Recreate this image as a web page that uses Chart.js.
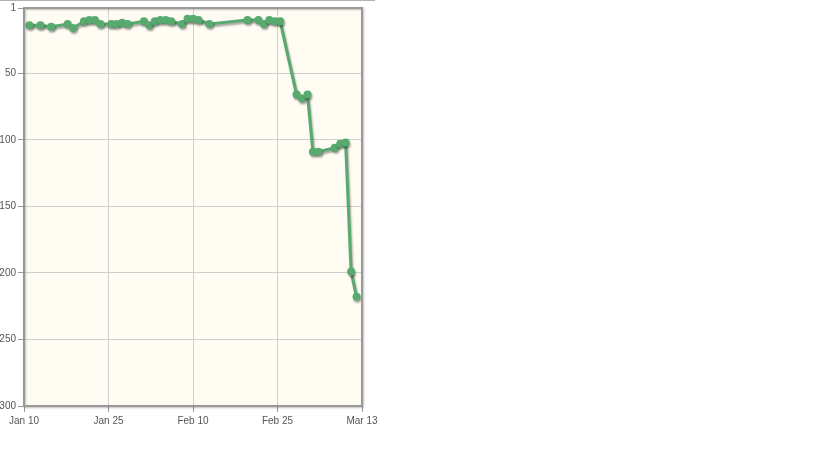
<!DOCTYPE html>
<html>
<head>
<meta charset="utf-8">
<script src="https://cdn.jsdelivr.net/npm/chart.js@4/dist/chart.umd.min.js"></script>
<style>
  body { margin: 0; background: #fff; }
  #wrap { position: relative; width: 819px; height: 460px; }
  #topline { position: absolute; left: 0; top: 0; width: 375px; height: 1px; background: #a9b4bd; }
</style>
</head>
<body>
<div id="wrap">
  <div id="topline"></div>
  <canvas id="rankChart"></canvas>
</div>
<script>
// dates (2023) and rank on each date
const dates = [
  '01-11', '01-13', '01-15', '01-18', '01-19', '01-21', '01-22', '01-23', '01-24', '01-26',
  '01-27', '01-28', '01-29', '02-01', '02-02', '02-03', '02-04', '02-05', '02-06', '02-08',
  '02-09', '02-10', '02-11', '02-13', '02-20', '02-22', '02-23', '02-24', '02-25', '02-26',
  '03-01', '03-02', '03-03', '03-04', '03-05', '03-08', '03-09', '03-10', '03-11', '03-12'
];
const ranks = [
  14, 14, 15, 13, 16, 11, 10, 10, 13, 13,
  13, 12, 13, 11, 14, 11, 10, 10, 11, 13,
  9, 9, 10, 13, 10, 10, 13, 10, 11, 11,
  66, 69, 66, 109, 109, 106, 103, 102, 199, 218
];
const xTickLabels = ['Jan 10', 'Jan 25', 'Feb 10', 'Feb 25', 'Mar 13'];
const yTicks = [1, 50, 100, 150, 200, 250, 300];

const startDay = Date.UTC(2023, 0, 10);
const endDay = Date.UTC(2023, 2, 13);
const DAY = 86400000;
const span = (endDay - startDay) / DAY;

function dayOf(s) {
  const p = s.split('-');
  return (Date.UTC(2023, parseInt(p[0]) - 1, parseInt(p[1])) - startDay) / DAY;
}

const points = dates.map((d, i) => ({ x: dayOf(d), y: ranks[i] }));

const framePlugin = {
  id: 'frame',
  beforeDraw(chart) {
    const a = chart.chartArea;
    const ctx = chart.ctx;
    ctx.save();
    ctx.fillStyle = '#fffcf3';
    ctx.fillRect(a.left, a.top, a.right - a.left, a.bottom - a.top);
    ctx.restore();
  },
  beforeDatasetsDraw(chart) {
    const ctx = chart.ctx;
    ctx.save();
    ctx.shadowColor = 'rgba(0,0,0,0.35)';
    ctx.shadowBlur = 2;
    ctx.shadowOffsetX = 1;
    ctx.shadowOffsetY = 2;
  },
  afterDatasetsDraw(chart) {
    chart.ctx.restore();
  },
  afterDraw(chart) {
    const a = chart.chartArea;
    const ctx = chart.ctx;
    ctx.save();
    ctx.shadowColor = 'rgba(0,0,0,0.25)';
    ctx.shadowBlur = 2;
    ctx.shadowOffsetX = 1;
    ctx.shadowOffsetY = 1;
    ctx.strokeStyle = '#999';
    ctx.lineWidth = 2;
    ctx.strokeRect(a.left, a.top, a.right - a.left, a.bottom - a.top);
    ctx.restore();
  }
};

const ctx = document.getElementById('rankChart').getContext('2d');

const chart = new Chart(ctx, {
  type: 'line',
  data: {
    datasets: [
      {
        label: 'Rank',
        data: points,
        borderColor: '#58aa6f',
        backgroundColor: '#58aa6f',
        borderWidth: 3,
        pointRadius: 4,
        pointHoverRadius: 4,
        pointBorderWidth: 0,
        fill: false,
        tension: 0,
      },
    ],
  },
  options: {
    responsive: true,
    maintainAspectRatio: false,
    animation: false,
    layout: { padding: { top: 6, right: 457, left: 0, bottom: 0 } },
    plugins: {
      legend: { display: false },
      tooltip: { enabled: false },
    },
    scales: {
      x: {
        type: 'linear',
        min: 0,
        max: span,
        afterBuildTicks(scale) {
          scale.ticks = xTickLabels.map((_, i) => ({ value: (i * span) / (xTickLabels.length - 1) }));
        },
        afterFit(scale) { scale.height = 54; },
        ticks: {
          autoSkip: false,
          maxRotation: 0,
          padding: 3,
          color: '#555',
          font: { family: 'Liberation Sans, Arial, sans-serif', size: 10 },
          callback: (v, i) => xTickLabels[i],
        },
        grid: { color: '#cfcfcf', tickLength: 6, tickColor: '#999' },
        border: { display: false },
      },
      y: {
        reverse: true,
        min: 1,
        max: 300,
        afterBuildTicks(scale) {
          scale.ticks = yTicks.map(v => ({ value: v }));
        },
        afterFit(scale) { scale.width = 24; },
        ticks: {
          autoSkip: false,
          padding: 2,
          color: '#555',
          font: { family: 'Liberation Sans, Arial, sans-serif', size: 10 },
        },
        grid: { color: '#cfcfcf', tickLength: 6, tickColor: '#999' },
        border: { display: false },
      },
    },
  },
  plugins: [framePlugin],
});
</script>
</body>
</html>
